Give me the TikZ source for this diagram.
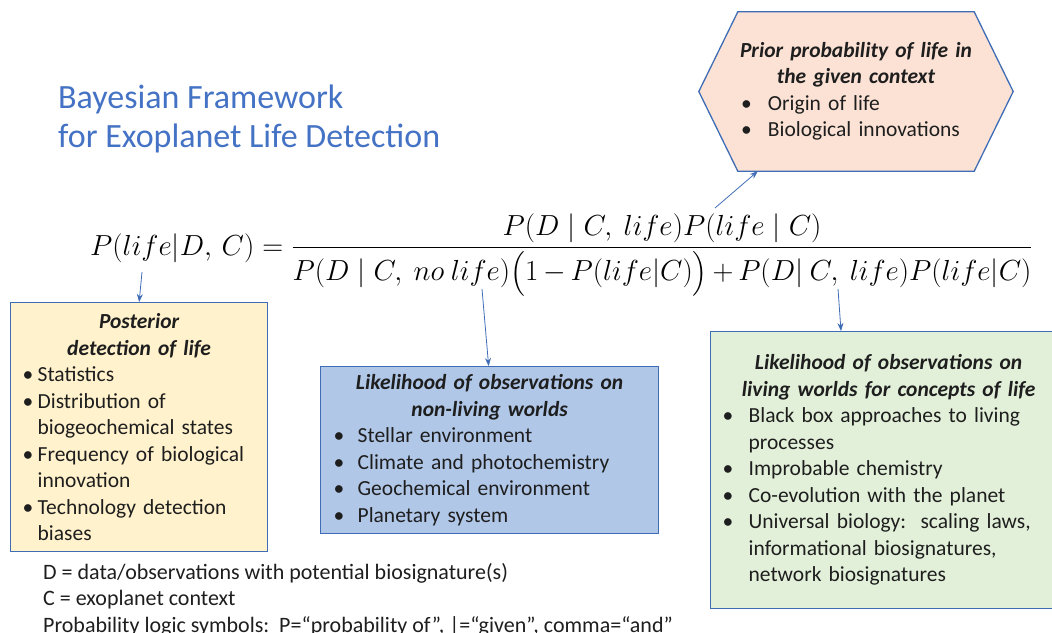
\RequirePackage{fix-cm}
\documentclass[tikz,border=0pt]{standalone}
\usepackage[no-math]{fontspec}
\setmainfont{Carlito}
\usepackage{amsmath}
\usetikzlibrary{calc}
\usetikzlibrary{arrows.meta}
\usetikzlibrary{positioning,backgrounds}

\definecolor{edgeblue}{HTML}{3F6DB5}
\definecolor{titleblue}{HTML}{4472C4}
\definecolor{postfill}{HTML}{FFF2CC}
\definecolor{nolifefill}{HTML}{B0C7E8}
\definecolor{lifefill}{HTML}{E2F0D9}
\definecolor{priorfill}{HTML}{FBE2D5}
\definecolor{inktext}{HTML}{1E1E1E}

\newcommand\boxhead[1]{{\centering\bfseries\itshape #1\par}}
\newcommand\itm[2][25pt]{\par\noindent\hangindent=#1\hangafter=1\makebox[#1][l]{\textbullet}#2}

\tikzset{
 bodyfont/.style={font=\fontsize{21.5}{26.5}\selectfont, text=inktext},
 infobox/.style={bodyfont, draw=edgeblue, line width=1.3pt, anchor=north west,
   inner ysep=0pt, align=left},
 arr/.style={edgeblue, line width=0.8pt, ->, >={Stealth[length=8pt,width=6pt]}}
}

\begin{document}
\begin{tikzpicture}[x=1pt,y=-1pt]
\useasboundingbox (0,0) rectangle (1052,632);
\clip (0,0) rectangle (1052,632);

% title (anchored on its last line)
\node[anchor=base west, align=left, inner sep=0, text=titleblue,
  font=\fontsize{34}{39}\selectfont] (title) at (58,147)
  {Bayesian Framework\\for Exoplanet Life Detection};

% Bayes rule
\node[anchor=base west, inner sep=0, font=\fontsize{29}{34}\selectfont] (bayes) at (90,255)
 {\medmuskip=3mu
  $\displaystyle P(life|D,\,C)=\frac{P(D\mid C,\ life)P(life\mid C)}{P(D\mid C,\ no\ life)\bigl(1-P(life|C)\bigr)+P(D|\ C,\ life)P(life|C)}$};

% prior (hexagon)
\node[bodyfont, minimum width=236pt, minimum height=159pt, text width=230pt,
  inner sep=0, align=left] (prior) at (856,91.5)
 {\boxhead{\makebox[\linewidth]{Prior probability of life in}\\the given context}
  \itm[27pt]{Origin of life}
  \itm[27pt]{Biological innovations}\par};
\begin{scope}[on background layer]
\filldraw[fill=priorfill, draw=edgeblue, line width=1.3pt]
  (prior.north west) -- (prior.north east) -- ($(prior.east)+(39,0)$)
  -- (prior.south east) -- (prior.south west) -- ($(prior.west)+(-39,0)$) -- cycle;
\end{scope}

% posterior
\node[infobox, fill=postfill, inner xsep=12pt, text width=233pt,
  minimum height=249pt] (post) at (10,302)
 {\boxhead{Posterior\\detection of life}
  \itm[15pt]{Statistics}
  \itm[15pt]{Distribution of\newline biogeochemical states}
  \itm[15pt]{Frequency of biological\newline innovation}
  \itm[15pt]{Technology detection\newline biases}\par};

% likelihood, no life
\node[infobox, fill=nolifefill, inner xsep=13pt, text width=312pt,
  minimum height=167pt] (nolife) at (320,366)
 {\boxhead{Likelihood of observations on\\non-living worlds}
  \itm[24pt]{Stellar environment}
  \itm[24pt]{Climate and photochemistry}
  \itm[24pt]{Geochemical environment}
  \itm[24pt]{Planetary system}\par};

% likelihood, life
\node[infobox, fill=lifefill, inner xsep=12pt, text width=332pt,
  minimum height=277pt] (life) at (710,331)
 {\boxhead{Likelihood of observations on\\living worlds for concepts of life}
  \itm[26pt]{Black box approaches to living\newline processes}
  \itm[26pt]{Improbable chemistry}
  \itm[26pt]{Co-evolution with the planet}
  \itm[26pt]{Universal biology:\ \ scaling laws,\newline informational biosignatures,\newline network biosignatures}\par};

% legend
\node[bodyfont, font=\fontsize{22}{26.5}\selectfont, anchor=base west, align=left,
  inner sep=0] (legend) at (43,632)
 {D = data/observations with potential biosignature(s)\\
  C = exoplanet context\\
  Probability logic symbols:\ \ P=“probability of”, |=“given”, comma=“and”};

% pointers
\coordinate (fromPost) at (142,272);
\coordinate (fromNoLife) at (482,289);
\coordinate (fromLife) at (838,289);
\coordinate (fromPrior) at (715,208);
\draw[arr] (fromPost) -- (post.north);
\draw[arr] (fromNoLife) -- ($(nolife.north)+(-1,0)$);
\draw[arr] (fromLife) -- ($(life.north west)+(131,0)$);
\draw[arr] (fromPrior) -- ($(prior.south west)+(20,0)$);
\end{tikzpicture}
\end{document}
